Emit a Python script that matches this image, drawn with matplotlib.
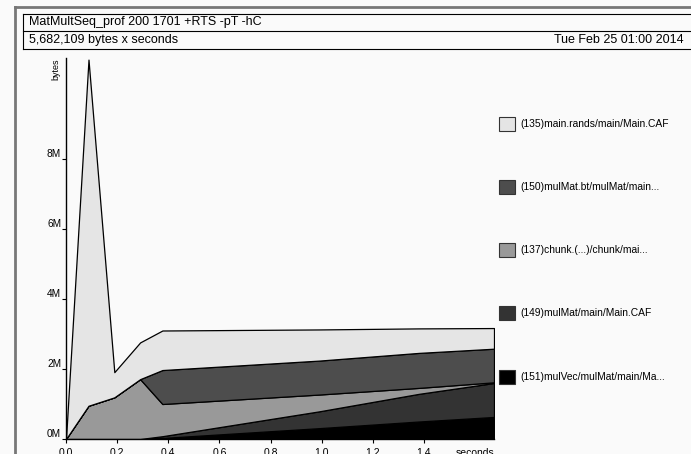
import matplotlib
matplotlib.use("Agg")
import matplotlib.pyplot as plt
from matplotlib.lines import Line2D
from matplotlib.patches import Rectangle

plt.rcParams['font.family'] = ['Liberation Sans', 'DejaVu Sans']

W, H = 691, 454
BG = '#fafafa'

title = "MatMultSeq_prof 200 1701 +RTS -pT -hC"
subtitle = "5,682,109 bytes x seconds"
date = "Tue Feb 25 01:00 2014"

times = [0.0, 0.088, 0.189, 0.29, 0.377, 0.99, 1.38, 1.674]
# layers bottom -> top, in MB
mulVec = [0, 0, 0, 0, 0.03, 0.31, 0.50, 0.63]
mulMat = [0, 0, 0, 0, 0.05, 0.48, 0.79, 0.97]
chunk = [0, 0.95, 1.19, 1.71, 0.92, 0.48, 0.17, 0.02]
mulMat_bt = [0, 0, 0, 0, 0.97, 0.97, 1.00, 0.96]
rands = [0, 9.89, 0.72, 1.05, 1.13, 0.89, 0.70, 0.59]

layer_names = ["(151)mulVec/mulMat/main/Ma...", "(149)mulMat/main/Main.CAF",
               "(137)chunk.(...)/chunk/mai...", "(150)mulMat.bt/mulMat/main...",
               "(135)main.rands/main/Main.CAF"]
layer_colors = ['#000000', '#333333', '#999999', '#4d4d4d', '#e5e5e5']

yticks = [0, 2, 4, 6, 8]
ytick_labels = ["0M", "2M", "4M", "6M", "8M"]
xticks = [0.0, 0.2, 0.4, 0.6, 0.8, 1.0, 1.2, 1.4]
xtick_labels = ["0.0", "0.2", "0.4", "0.6", "0.8", "1.0", "1.2", "1.4"]

fig = plt.figure(figsize=(W / 100, H / 100), dpi=100, facecolor=BG)

def fx(px):
    return px / W

def fy(py):
    return 1 - py / H

# page border
fig.add_artist(Line2D([fx(15), fx(691)], [fy(7), fy(7)], color='#777777', lw=2))
fig.add_artist(Line2D([fx(15), fx(15)], [fy(7), fy(454)], color='#777777', lw=2))

# header box
for y in (13.5, 31, 48.5):
    fig.add_artist(Line2D([fx(23), fx(691)], [fy(y), fy(y)], color='black', lw=0.8))
fig.add_artist(Line2D([fx(23), fx(23)], [fy(13.5), fy(48.5)], color='black', lw=0.8))
fig.text(fx(29), fy(22.5), title, fontsize=9, va='center', ha='left')
fig.text(fx(29), fy(40), subtitle, fontsize=9, va='center', ha='left')
fig.text(fx(684), fy(40), date, fontsize=9, va='center', ha='right')

# axes
ax_l, ax_r, ax_t, ax_b = 66, 494, 58, 439
ax = fig.add_axes([fx(ax_l), fy(ax_b), (ax_r - ax_l) / W, (ax_b - ax_t) / H])
ax.set_facecolor('none')
px_per_mb = 35.0
ax.set_xlim(0, times[-1])
ax.set_ylim(0, (ax_b - ax_t) / px_per_mb)

layers = [mulVec, mulMat, chunk, mulMat_bt, rands]
ax.stackplot(times, *layers, colors=layer_colors, edgecolor='black', linewidth=0.9)

for s in ('top', 'right'):
    ax.spines[s].set_visible(False)
ax.spines['left'].set_linewidth(1.0)
ax.spines['bottom'].set_linewidth(1.0)

ax.set_yticks(yticks)
ax.set_yticklabels(ytick_labels, fontsize=7.3)
for lbl in ax.get_yticklabels():
    lbl.set_verticalalignment('bottom')
ax.set_xticks(xticks)
ax.set_xticklabels(xtick_labels, fontsize=7.5)
ax.tick_params(axis='y', length=3, width=0.8, pad=0.5)
ax.tick_params(axis='x', length=3, width=0.8, pad=3.5)

fig.text(fx(475), fy(448), "seconds", fontsize=7.5, ha='center', va='top')
fig.text(fx(56), fy(58), "bytes", fontsize=6.5, rotation=90, ha='center', va='top')

# legend
leg_y = [124, 187, 250, 313, 377]
for name, col, yc in zip(layer_names[::-1], layer_colors[::-1], leg_y):
    fig.add_artist(Rectangle((fx(499.5), fy(yc + 7)), 15 / W, 14 / H, facecolor=col,
                             edgecolor='#333333', lw=0.8))
    fig.text(fx(520), fy(yc), name, fontsize=7.4, va='center', ha='left')

fig.savefig("out.png", dpi=100, facecolor=BG)
